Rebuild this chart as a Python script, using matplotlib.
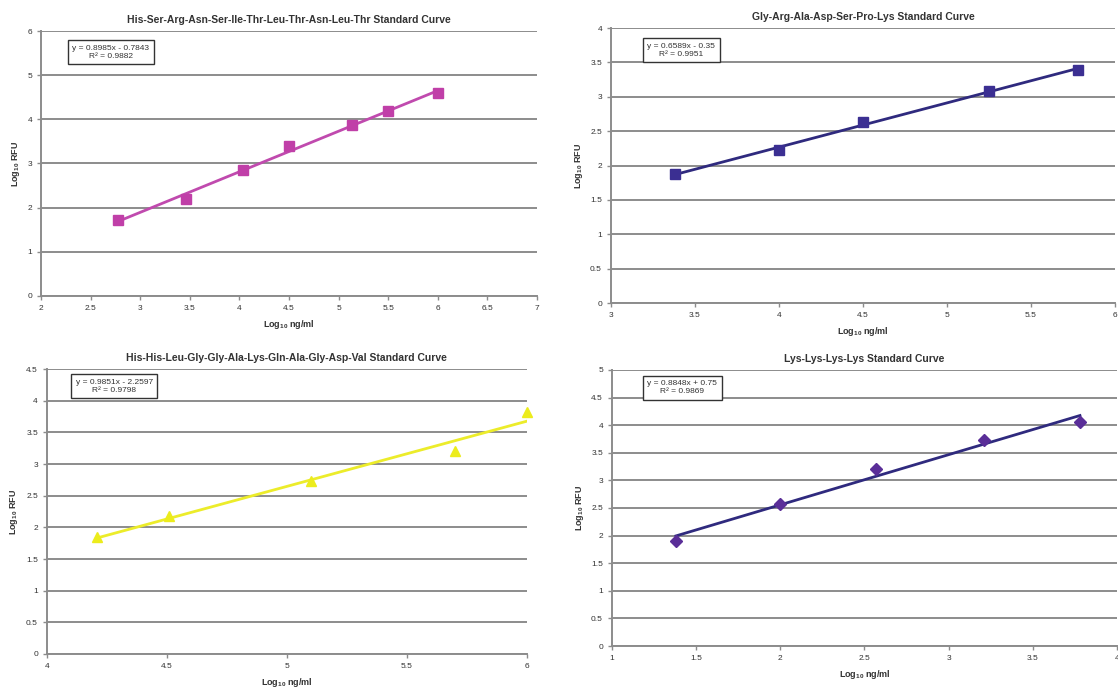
import numpy as np
import matplotlib
matplotlib.use("Agg")
import matplotlib.pyplot as plt

plt.rcParams['font.family'] = ['Liberation Sans Narrow', 'Liberation Sans', 'DejaVu Sans']
plt.rcParams['mathtext.default'] = 'regular'

# data
titles = [
    "His-Ser-Arg-Asn-Ser-Ile-Thr-Leu-Thr-Asn-Leu-Thr Standard Curve",
    "Gly-Arg-Ala-Asp-Ser-Pro-Lys Standard Curve",
    "His-His-Leu-Gly-Gly-Ala-Lys-Gln-Ala-Gly-Asp-Val Standard Curve",
    "Lys-Lys-Lys-Lys Standard Curve",
]
eq_labels = [
    "y = 0.8985x - 0.7843\nR² = 0.9882",
    "y = 0.6589x - 0.35\nR² = 0.9951",
    "y = 0.9851x - 2.2597\nR² = 0.9798",
    "y = 0.8848x + 0.75\nR² = 0.9869",
]

x1 = [2.78, 3.46, 4.04, 4.50, 5.14, 5.50, 6.00]
y1 = [1.72, 2.20, 2.85, 3.40, 3.88, 4.18, 4.60]

x2 = [3.38, 4.00, 4.50, 5.25, 5.78]
y2 = [1.87, 2.23, 2.63, 3.09, 3.39]

x3 = [4.21, 4.51, 5.10, 5.70, 6.00]
y3 = [1.84, 2.18, 2.73, 3.20, 3.82]

x4 = [1.38, 2.00, 2.57, 3.21, 3.78]
y4 = [1.90, 2.57, 3.21, 3.73, 4.05]

xs = [x1, x2, x3, x4]
ys = [y1, y2, y3, y4]

xlims = [(2, 7), (3, 6), (4, 6), (1, 4)]
ylims = [(0, 6), (0, 4), (0, 4.5), (0, 5)]
xsteps = [0.5, 0.5, 0.5, 0.5]
ysteps = [1, 0.5, 0.5, 0.5]

marker_colors = ['#c03fa8', '#3b2f92', '#ecec1c', '#5a2e98']
line_colors = ['#c04aae', '#2f2a7e', '#ecec2a', '#2f2a7e']
markers = ['s', 's', '^', 'D']
msizes = [6.5, 6.5, 7.5, 6.5]

positions = [
    [0.0367, 0.5704, 0.4436, 0.3846],
    [0.5465, 0.5602, 0.4508, 0.3991],
    [0.0420, 0.0508, 0.4293, 0.4136],
    [0.5474, 0.0624, 0.4517, 0.4006],
]
box_pos = [(0.141, 0.92), (0.139, 0.92), (0.14, 0.94), (0.139, 0.935)]

fig = plt.figure(figsize=(11.18, 6.89), dpi=100)

for i in range(4):
    ax = fig.add_axes(positions[i])
    x = np.array(xs[i])
    y = np.array(ys[i])
    m, b = np.polyfit(x, y, 1)
    ax.plot(x[[0, -1]], m * x[[0, -1]] + b, color=line_colors[i], linewidth=2.0, zorder=3)
    ax.plot(x, y, linestyle='none', marker=markers[i], color=marker_colors[i],
            markersize=msizes[i], zorder=4, clip_on=False)

    ax.set_xlim(*xlims[i])
    ax.set_ylim(*ylims[i])
    ax.set_xticks(np.arange(xlims[i][0], xlims[i][1] + 0.01, xsteps[i]))
    ax.set_yticks(np.arange(ylims[i][0], ylims[i][1] + 0.01, ysteps[i]))
    ax.xaxis.set_major_formatter(plt.FuncFormatter(lambda v, p: ('%g' % v)))
    ax.yaxis.set_major_formatter(plt.FuncFormatter(lambda v, p: ('%g' % v)))
    ax.grid(axis='y', color='#8c8c8c', linewidth=1.4)
    ax.set_axisbelow(True)
    for s in ['top', 'right']:
        ax.spines[s].set_visible(False)
    for s in ['left', 'bottom']:
        ax.spines[s].set_color('#8c8c8c')
        ax.spines[s].set_linewidth(1.4)
    ax.tick_params(labelsize=6, colors='#8c8c8c', labelcolor='#333333', length=3, width=1)

    ax.set_title(titles[i], fontsize=7.5, fontweight='bold', color='#333333', pad=6)
    ax.set_xlabel("Log$_{10}$ ng/ml", fontsize=6.5, fontweight='bold', color='#333333', labelpad=4)
    ax.set_ylabel("Log$_{10}$ RFU", fontsize=6.5, fontweight='bold', color='#333333', labelpad=4)

    bx, by = box_pos[i]
    ax.text(bx, by, eq_labels[i], transform=ax.transAxes, ha='center', va='center',
            fontsize=6, color='#333333', linespacing=1.2,
            bbox=dict(boxstyle='square,pad=0.55', facecolor='white', edgecolor='#333333', linewidth=1))

fig.savefig("out.png", dpi=100)
